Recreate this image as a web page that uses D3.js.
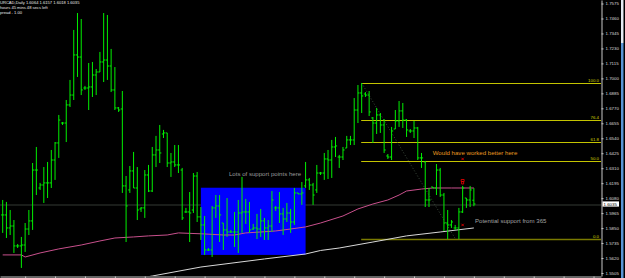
<!DOCTYPE html>
<html>
<head>
<meta charset="utf-8">
<script src="https://cdn.jsdelivr.net/npm/d3@7"></script>
<style>
  body { margin: 0; background: #000; }
  svg { display: block; }
</style>
</head>
<body>
<svg id="chart"></svg>
<script>
// daily bars, oldest first
var barOpen = [1.5951, 1.5951, 1.5851, 1.5866, 1.5713, 1.5713, 1.5720, 1.5843, 1.5905, 1.6296,
    1.6158, 1.6181, 1.6197, 1.6197, 1.6373, 1.6504, 1.6657, 1.6657, 1.6796, 1.6872,
    1.7180, 1.7164, 1.6926, 1.6926, 1.6934, 1.7026, 1.7049, 1.7126, 1.7141, 1.7095,
    1.6911, 1.6773, 1.6765, 1.6174, 1.6143, 1.6289, 1.6158, 1.5997, 1.6005, 1.6258,
    1.6135, 1.6412, 1.6450, 1.6573, 1.6581, 1.6350, 1.6358, 1.6335, 1.6296, 1.5974,
    1.5974, 1.5989, 1.6250, 1.5936, 1.5874, 1.5682, 1.5682, 1.6005, 1.6020, 1.5889,
    1.5836, 1.5820, 1.5820, 1.5820, 1.5966, 1.5974, 1.5974, 1.5843, 1.5851, 1.5843,
    1.5905, 1.5851, 1.5866, 1.6005, 1.6005, 1.5959, 1.5920, 1.5966, 1.5897, 1.6120,
    1.6112, 1.6174, 1.6220, 1.6181, 1.6143, 1.6273, 1.6273, 1.6381, 1.6373, 1.6473,
    1.6396, 1.6396, 1.6465, 1.6527, 1.6527, 1.6757, 1.6888, 1.6880, 1.6872, 1.6696,
    1.6657, 1.6719, 1.6642, 1.6404, 1.6396, 1.6611, 1.6673, 1.6750, 1.6680, 1.6596,
    1.6596, 1.6619, 1.6389, 1.6358, 1.6066, 1.6166, 1.6158, 1.6296, 1.6104, 1.5889,
    1.5874, 1.5851, 1.5851, 1.5974, 1.6081, 1.6066, 1.6064];

var barHigh = [1.6066, 1.6051, 1.5989, 1.5912, 1.5728, 1.5782, 1.5889, 1.5989, 1.6350, 1.6473,
    1.6197, 1.6319, 1.6358, 1.6450, 1.6511, 1.6719, 1.6665, 1.6834, 1.6988, 1.7372,
    1.7502, 1.7456, 1.6942, 1.7118, 1.7126, 1.7072, 1.7203, 1.7502, 1.7487, 1.7226,
    1.7087, 1.6780, 1.6903, 1.6250, 1.6327, 1.6435, 1.6319, 1.6012, 1.6296, 1.6335,
    1.6473, 1.6558, 1.6642, 1.6604, 1.6581, 1.6427, 1.6488, 1.6488, 1.6312, 1.6005,
    1.6127, 1.6273, 1.6281, 1.6012, 1.5943, 1.5697, 1.6020, 1.6104, 1.6104, 1.5889,
    1.6081, 1.5836, 1.5974, 1.6066, 1.6243, 1.6074, 1.6051, 1.5882, 1.5959, 1.5997,
    1.5928, 1.5912, 1.6135, 1.6020, 1.6127, 1.6005, 1.6043, 1.5997, 1.6158, 1.6120,
    1.6204, 1.6358, 1.6235, 1.6197, 1.6335, 1.6281, 1.6427, 1.6450, 1.6527, 1.6550,
    1.6412, 1.6473, 1.6558, 1.6558, 1.6849, 1.6949, 1.6964, 1.6895, 1.6903, 1.6703,
    1.6773, 1.6734, 1.6688, 1.6419, 1.6627, 1.6757, 1.6826, 1.6811, 1.6688, 1.6611,
    1.6673, 1.6627, 1.6427, 1.6366, 1.6158, 1.6166, 1.6342, 1.6312, 1.6120, 1.5989,
    1.5912, 1.5874, 1.6005, 1.6174, 1.6081, 1.6174, 1.6157];

var barLow = [1.5813, 1.5774, 1.5797, 1.5659, 1.5697, 1.5544, 1.5667, 1.5797, 1.5836, 1.6104,
    1.6143, 1.6043, 1.6081, 1.6158, 1.6220, 1.6389, 1.6642, 1.6511, 1.6780, 1.6834,
    1.7011, 1.6872, 1.6911, 1.6757, 1.6857, 1.6872, 1.7049, 1.6972, 1.6988, 1.6895,
    1.6757, 1.6742, 1.6120, 1.5743, 1.6120, 1.6158, 1.5912, 1.5974, 1.5928, 1.6127,
    1.6127, 1.6319, 1.6350, 1.6542, 1.6319, 1.6243, 1.6319, 1.6273, 1.5912, 1.5966,
    1.5743, 1.5966, 1.5897, 1.5759, 1.5644, 1.5674, 1.5628, 1.5928, 1.5743, 1.5682,
    1.5782, 1.5813, 1.5705, 1.5659, 1.5813, 1.5882, 1.5813, 1.5836, 1.5766, 1.5782,
    1.5759, 1.5759, 1.5820, 1.5982, 1.5889, 1.5797, 1.5897, 1.5813, 1.5874, 1.6112,
    1.6028, 1.6158, 1.6143, 1.6028, 1.6120, 1.6258, 1.6220, 1.6227, 1.6235, 1.6396,
    1.6312, 1.6373, 1.6465, 1.6488, 1.6488, 1.6657, 1.6734, 1.6857, 1.6711, 1.6504,
    1.6573, 1.6581, 1.6427, 1.6381, 1.6373, 1.6611, 1.6627, 1.6619, 1.6550, 1.6581,
    1.6542, 1.6373, 1.6312, 1.6012, 1.6012, 1.6158, 1.6104, 1.6089, 1.5828, 1.5766,
    1.5851, 1.5836, 1.5766, 1.5966, 1.6005, 1.6012, 1.6018];

var barClose = [1.5951, 1.5851, 1.5866, 1.5713, 1.5713, 1.5720, 1.5843, 1.5905, 1.6296, 1.6296,
    1.6181, 1.6197, 1.6197, 1.6373, 1.6504, 1.6680, 1.6657, 1.6796, 1.6872, 1.7180,
    1.7164, 1.6911, 1.6926, 1.6934, 1.7026, 1.7049, 1.7126, 1.7141, 1.7095, 1.6911,
    1.6773, 1.6757, 1.6174, 1.6020, 1.6289, 1.6158, 1.5989, 1.6005, 1.6258, 1.6135,
    1.6412, 1.6450, 1.6427, 1.6581, 1.6350, 1.6358, 1.6335, 1.6335, 1.5928, 1.5974,
    1.5966, 1.6250, 1.5936, 1.5874, 1.5682, 1.5682, 1.6005, 1.6020, 1.5951, 1.5836,
    1.5820, 1.5820, 1.5820, 1.5966, 1.5974, 1.5974, 1.5836, 1.5851, 1.5843, 1.5905,
    1.5851, 1.5866, 1.6066, 1.6005, 1.5959, 1.5920, 1.5966, 1.5897, 1.6120, 1.6112,
    1.6120, 1.6220, 1.6181, 1.6104, 1.6273, 1.6273, 1.6381, 1.6373, 1.6473, 1.6481,
    1.6396, 1.6450, 1.6527, 1.6527, 1.6757, 1.6888, 1.6865, 1.6872, 1.6742, 1.6657,
    1.6719, 1.6642, 1.6450, 1.6396, 1.6596, 1.6673, 1.6750, 1.6680, 1.6604, 1.6596,
    1.6619, 1.6389, 1.6389, 1.6066, 1.6066, 1.6158, 1.6296, 1.6104, 1.5889, 1.5874,
    1.5897, 1.5851, 1.5974, 1.6158, 1.6066, 1.6143, 1.6035];

// moving averages, read at some bar positions
var maPinkIdx = [0, 5, 6, 10, 15, 21, 26, 30, 35, 39, 44, 47, 54, 59, 62, 65, 69, 73, 77, 81,
    85, 91, 95, 99, 103, 106, 108, 112, 115, 120, 126];
var maPinkVal = [1.5644, 1.5644, 1.5628, 1.5659, 1.5690, 1.5720, 1.5751, 1.5774, 1.5782, 1.5790,
    1.5797, 1.5813, 1.5805, 1.5797, 1.5797, 1.5813, 1.5820, 1.5828, 1.5843, 1.5859,
    1.5889, 1.5943, 1.5997, 1.6035, 1.6066, 1.6104, 1.6135, 1.6150, 1.6158, 1.6158, 1.6158];

var maWhiteIdx = [37, 40, 53, 70, 81, 85, 90, 99, 108, 117, 126];
var maWhiteVal = [1.5467, 1.5482, 1.5551, 1.5613, 1.5651, 1.5678, 1.5697, 1.5743, 1.5790, 1.5820, 1.5851];

var priceTicks = [1.7575, 1.7460, 1.7345, 1.7230, 1.7115, 1.7000, 1.6885, 1.6770, 1.6655, 1.6540,
    1.6425, 1.6310, 1.6195, 1.6080, 1.5965, 1.5850, 1.5735, 1.5620, 1.5505];

var headerLines = ["URCAD,Daily  1.6064 1.6157 1.6018 1.6035", "hours 45 mins 48 secs left", "pread - 1.00"];
var bidPrice = 1.6035;

// fibonacci retracement
var fibLevels = [100, 76.4, 61.8, 50, 0];
var fibLabels = ["100.0", "76.4", "61.8", "50.0", "0.0"];
var fibHigh = 1.6964, fibLow = 1.5770;
var fibFrom = 96, fibTo = 121;

// support box
var boxFrom = 53, boxTo = 81, boxTop = 1.6160, boxBottom = 1.5644;

var markIdx = [123, 123, 123];
var markPrice = [1.6381, 1.6204, 1.5874];

var width = 625, height = 278, plotRight = 601, plotBottom = 276;

var svg = d3.select("#chart")
    .attr("width", width)
    .attr("height", height)
    .style("background", "#000");

var x = d3.scaleLinear().domain([-0.72, 160]).range([0, plotRight]);
var y = d3.scaleLinear().domain([1.5482, 1.7602]).range([plotBottom, 0]);

svg.append("clipPath").attr("id", "plot")
    .append("rect").attr("x", 0).attr("y", 0).attr("width", plotRight).attr("height", plotBottom);

var plot = svg.append("g").attr("clip-path", "url(#plot)");

// bid line
plot.append("line")
    .attr("x1", 0).attr("x2", plotRight)
    .attr("y1", y(bidPrice) + 1).attr("y2", y(bidPrice) + 1)
    .attr("stroke", "#353a35").attr("stroke-width", 1);

// blue box
plot.append("rect")
    .attr("x", x(boxFrom))
    .attr("y", y(boxTop))
    .attr("width", x(boxTo) - x(boxFrom))
    .attr("height", y(boxBottom) - y(boxTop))
    .attr("fill", "#0000ff");

// fib lines
var fibPrice = function (lvl) {
    return fibLow + (fibHigh - fibLow) * lvl / 100;
};

plot.selectAll(".fib")
    .data(fibLevels)
    .enter().append("line")
    .attr("x1", x(fibFrom) - 0.5)
    .attr("x2", plotRight)
    .attr("y1", function (d) { return Math.round(y(fibPrice(d))) + 0.5; })
    .attr("y2", function (d) { return Math.round(y(fibPrice(d))) + 0.5; })
    .attr("stroke", function (d) { return d === 0 ? "#7a7a00" : "#c4c400"; })
    .attr("stroke-width", function (d) { return d === 0 ? 1.6 : 1; });

plot.append("line")
    .attr("x1", x(fibFrom)).attr("y1", y(fibHigh))
    .attr("x2", x(fibTo)).attr("y2", y(fibLow))
    .attr("stroke", "#4a5a4a")
    .attr("stroke-width", 0.8)
    .attr("stroke-dasharray", "1,2");

svg.selectAll(".fibLabel")
    .data(fibLevels)
    .enter().append("text")
    .attr("x", plotRight - 2)
    .attr("y", function (d) { return Math.round(y(fibPrice(d))) - 0.8; })
    .attr("text-anchor", "end")
    .attr("fill", "#d0d000")
    .attr("font-family", "Liberation Sans, Arial, sans-serif")
    .attr("font-size", "4.4px")
    .text(function (d, i) { return fibLabels[i]; });

// moving averages
var maLine = d3.line()
    .x(function (d) { return x(d[0]); })
    .y(function (d) { return y(d[1]); });

plot.append("path")
    .datum(maPinkIdx.map(function (d, i) { return [d, maPinkVal[i]]; }))
    .attr("d", maLine)
    .attr("fill", "none")
    .attr("stroke", "#c8508c")
    .attr("stroke-width", 1);

plot.append("path")
    .datum(maWhiteIdx.map(function (d, i) { return [d, maWhiteVal[i]]; }))
    .attr("d", maLine)
    .attr("fill", "none")
    .attr("stroke", "#d8d8d8")
    .attr("stroke-width", 1);

// OHLC bars
var bars = d3.range(barOpen.length).map(function (i) {
    return {i: i, o: barOpen[i], h: barHigh[i], l: barLow[i], c: barClose[i]};
});

plot.selectAll(".bar")
    .data(bars)
    .enter().append("path")
    .attr("class", "bar")
    .attr("d", function (d) {
        var bx = x(d.i);
        return "M" + bx + "," + y(d.h) + "V" + y(d.l) +
            "M" + (bx - 1.6) + "," + y(d.o) + "H" + bx +
            "M" + bx + "," + y(d.c) + "H" + (bx + 1.6);
    })
    .attr("fill", "none")
    .attr("stroke", "#00f000")
    .attr("stroke-width", 1);

// order marks
plot.selectAll(".mark")
    .data(markIdx)
    .enter().append("path")
    .attr("transform", function (d, i) {
        return "translate(" + x(d) + "," + y(markPrice[i]) + ")";
    })
    .attr("d", function (d, i) {
        if (i === 1) return "M-1.5,-2.5h3v2h-3zM-1,-0.5h2v2.5h-2z";
        return "M-1.2,-1.2L1.2,1.2M1.2,-1.2L-1.2,1.2";
    })
    .attr("fill", "none")
    .attr("stroke", "#e00000")
    .attr("stroke-width", 0.9);

// annotations
var notes = [
    {idx: 60.5, price: 1.6250, text: "Lots of support points here", color: "#9a9a9a"},
    {idx: 115, price: 1.6408, text: "Would have worked better here", color: "#e89a20"},
    {idx: 126.3, price: 1.5890, text: "Potential support from 365", color: "#a0a0a0"}
];

svg.selectAll(".note")
    .data(notes)
    .enter().append("text")
    .attr("x", function (d) { return x(d.idx); })
    .attr("y", function (d) { return y(d.price); })
    .attr("fill", function (d) { return d.color; })
    .attr("font-family", "Liberation Sans, Arial, sans-serif")
    .attr("font-size", "6.1px")
    .text(function (d) { return d.text; });

// header
svg.selectAll(".header")
    .data(headerLines)
    .enter().append("text")
    .attr("x", 0)
    .attr("y", function (d, i) { return 4.3 + i * 4.7; })
    .attr("fill", "#e8e8e8")
    .attr("font-family", "Liberation Sans, Arial, sans-serif")
    .attr("font-size", "4.1px")
    .text(function (d) { return d; });

// axes
var yAxis = d3.axisRight(y)
    .tickValues(priceTicks)
    .tickSize(2)
    .tickSizeOuter(0)
    .tickPadding(2)
    .tickFormat(d3.format(".4f"));

var gy = svg.append("g")
    .attr("transform", "translate(" + (plotRight + 0.5) + ",0)")
    .call(yAxis);

var xAxis = d3.axisBottom(x)
    .tickValues(d3.range(6, 160, 8))
    .tickSize(2)
    .tickSizeOuter(0)
    .tickFormat("");

var gx = svg.append("g")
    .attr("transform", "translate(0," + (plotBottom + 0.5) + ")")
    .call(xAxis);

[gy, gx].forEach(function (g) {
    g.select(".domain").attr("stroke", "#c8c8c8");
    g.selectAll(".tick line").attr("stroke", "#c8c8c8");
    g.selectAll("text")
        .attr("fill", "#dcdcdc")
        .attr("font-family", "Liberation Sans, Arial, sans-serif")
        .attr("font-size", "4.4px");
});

// current price box
svg.append("rect")
    .attr("x", plotRight + 1.5)
    .attr("y", y(bidPrice) - 2.6)
    .attr("width", 16.5)
    .attr("height", 5.2)
    .attr("fill", "#ffffff");

svg.append("text")
    .attr("x", plotRight + 2.5)
    .attr("y", y(bidPrice) + 1.6)
    .attr("fill", "#000")
    .attr("font-family", "Liberation Sans, Arial, sans-serif")
    .attr("font-size", "4.4px")
    .text(d3.format(".4f")(bidPrice));

// window edge strip
svg.append("rect").attr("x", 621).attr("y", 0).attr("width", 2.5).attr("height", 43).attr("fill", "#e4ecf4");
svg.append("rect").attr("x", 621).attr("y", 43).attr("width", 2.5).attr("height", 235).attr("fill", "#5a96d6");
</script>
</body>
</html>
